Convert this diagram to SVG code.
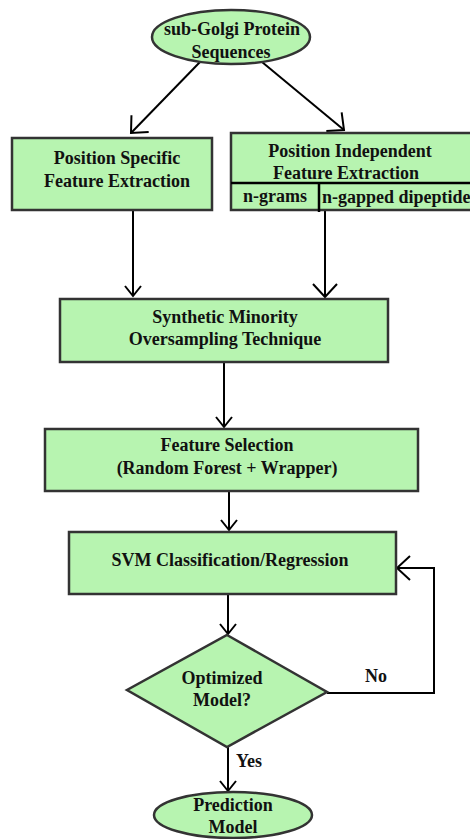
<svg xmlns="http://www.w3.org/2000/svg" width="470" height="839" viewBox="0 0 470 839">
<defs>
<style>
.n{fill:#b7f4b0;stroke:#333;stroke-width:2.5}
.t{font-family:"Liberation Serif","Times New Roman",serif;font-weight:bold;font-size:18px;fill:#111;text-anchor:middle}
.c{fill:none;stroke:#000;stroke-width:2}
</style>
<marker id="a" markerWidth="30" markerHeight="30" refX="14" refY="13" orient="auto" markerUnits="userSpaceOnUse" viewBox="0 0 30 30">
<path d="M1,1 L14,13 L1,25" fill="none" stroke="#000" stroke-width="2"/>
</marker>
<marker id="m" markerWidth="24" markerHeight="24" refX="11" refY="9" orient="auto" markerUnits="userSpaceOnUse" viewBox="0 0 24 24">
<path d="M1,1 L11,9 L1,17" fill="none" stroke="#000" stroke-width="2"/>
</marker>
</defs>
<g id="connectors">
<line class="c" x1="200" y1="62" x2="131" y2="133" marker-end="url(#a)"/>
<line class="c" x1="262" y1="62" x2="344" y2="130" marker-end="url(#a)"/>
<line class="c" x1="133" y1="210" x2="133" y2="296" marker-end="url(#m)"/>
<line class="c" x1="325" y1="210" x2="325" y2="297" marker-end="url(#a)"/>
<line class="c" x1="224" y1="362" x2="224" y2="427" marker-end="url(#m)"/>
<line class="c" x1="229" y1="491" x2="229" y2="530" marker-end="url(#m)"/>
<line class="c" x1="228" y1="594" x2="228" y2="634" marker-end="url(#m)"/>
<polyline class="c" points="327,693 434,693 434,568 397,568" marker-end="url(#a)"/>
<line class="c" x1="228" y1="747" x2="228" y2="791" marker-end="url(#m)"/>
<text class="t" x="376" y="682">No</text>
<text class="t" x="249" y="767">Yes</text>
</g>
<g id="start">
<ellipse class="n" cx="231" cy="37" rx="79" ry="27"/>
<text class="t" x="232" y="35">sub-Golgi Protein</text>
<text class="t" x="231" y="58">Sequences</text>
</g>
<g id="pos-specific">
<rect class="n" x="12" y="138" width="200" height="72"/>
<text class="t" x="117" y="164">Position Specific</text>
<text class="t" x="117" y="187">Feature Extraction</text>
</g>
<g id="pos-independent">
<rect class="n" x="231" y="133" width="245" height="77"/>
<line x1="231" y1="183" x2="476" y2="183" stroke="#000" stroke-width="2.5"/>
<line x1="319" y1="183" x2="319" y2="212" stroke="#000" stroke-width="2.5"/>
<text class="t" x="350" y="157">Position Independent</text>
<text class="t" x="346" y="179">Feature Extraction</text>
<text class="t" x="275" y="202">n-grams</text>
<text class="t" x="322" y="203" style="text-anchor:start">n-gapped dipeptide</text>
</g>
<g id="smote">
<rect class="n" x="60" y="299" width="328" height="63"/>
<text class="t" x="225" y="323">Synthetic Minority</text>
<text class="t" x="225" y="345">Oversampling Technique</text>
</g>
<g id="feature-selection">
<rect class="n" x="45" y="429" width="373" height="62"/>
<text class="t" x="227" y="451">Feature Selection</text>
<text class="t" x="227" y="474">(Random Forest + Wrapper)</text>
</g>
<g id="svm">
<rect class="n" x="69" y="532" width="327" height="62"/>
<text class="t" x="230" y="566">SVM Classification/Regression</text>
</g>
<g id="decision">
<polygon class="n" points="227,635 327,692 227,747 127,690"/>
<text class="t" x="222" y="684">Optimized</text>
<text class="t" x="222" y="706">Model?</text>
</g>
<g id="end">
<ellipse class="n" cx="233" cy="815" rx="79" ry="23"/>
<text class="t" x="233" y="811">Prediction</text>
<text class="t" x="233" y="833">Model</text>
</g>
</svg>
